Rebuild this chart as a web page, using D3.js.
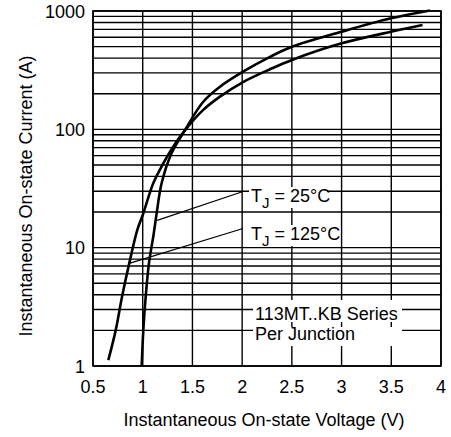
<!DOCTYPE html>
<html>
<head>
<meta charset="utf-8">
<script src="https://cdn.jsdelivr.net/npm/d3@7"></script>
<style>
  body { margin: 0; background: #fff; }
  svg { display: block; font-family: "Liberation Sans", Arial, sans-serif; }
</style>
</head>
<body>
<div id="chart"></div>
<script>
const xTicks = [0.5, 1, 1.5, 2, 2.5, 3, 3.5, 4];
const yTicks = [1, 10, 100, 1000];

// TJ = 125°C
const voltage125 = [0.654, 0.728, 0.792, 0.865, 0.945, 1.006, 1.106, 1.207, 1.30, 1.42, 1.609, 1.777, 2.009, 2.28, 2.501, 3.001, 3.497, 3.814];
const current125 = [1.12, 2.0, 3.85, 7.4, 14.1, 19.5, 35, 51.6, 70, 97, 146, 189, 251, 322, 386, 533, 668, 762];
// TJ = 25°C
const voltage25 = [0.99, 1.006, 1.03, 1.063, 1.11, 1.14, 1.19, 1.29, 1.42, 1.609, 1.777, 2.009, 2.28, 2.501, 3.001, 3.497, 3.889];
const current25 = [1.02, 2.0, 3.85, 7.4, 13, 19.5, 35, 62.7, 97, 171, 229, 307, 410, 499, 668, 867, 1010];

const w = 451, h = 437;
const pLeft = 93, pRight = 441, pTop = 11, pBottom = 366;

const svg = d3.select('#chart').append('svg').attr('width', w).attr('height', h);

const xScale = d3.scaleLinear().domain([0.5, 4]).range([pLeft, pRight]);
const yScale = d3.scaleLog().domain([1, 1000]).range([pBottom, pTop]);

// grid
const grid = svg.append('g').attr('stroke', '#000').attr('stroke-width', 1.4);
grid.selectAll('line.h')
    .data(yScale.ticks())
    .enter()
    .append('line')
    .attr('x1', pLeft).attr('x2', pRight)
    .attr('y1', d => yScale(d)).attr('y2', d => yScale(d));
grid.selectAll('line.v')
    .data(xTicks)
    .enter()
    .append('line')
    .attr('x1', d => xScale(d)).attr('x2', d => xScale(d))
    .attr('y1', pTop).attr('y2', pBottom);
svg.append('rect')
    .attr('x', pLeft).attr('y', pTop)
    .attr('width', pRight - pLeft).attr('height', pBottom - pTop)
    .attr('fill', 'none').attr('stroke', '#000').attr('stroke-width', 1.6);

// curves
const line = d3.line()
    .x(d => xScale(d[0]))
    .y(d => yScale(d[1]))
    .curve(d3.curveCatmullRom.alpha(0.5));
const series = [
    d3.zip(voltage125, current125),
    d3.zip(voltage25, current25)
];
svg.selectAll('path.curve')
    .data(series)
    .enter()
    .append('path')
    .attr('class', 'curve')
    .attr('d', d => line(d))
    .attr('fill', 'none')
    .attr('stroke', '#000')
    .attr('stroke-width', 2.6);

// annotations
const leader = svg.append('g').attr('stroke', '#000').attr('stroke-width', 1.2);
leader.append('line').attr('x1', xScale(1.145)).attr('y1', yScale(17)).attr('x2', 243).attr('y2', 191.5);
leader.append('line').attr('x1', xScale(0.872)).attr('y1', yScale(7.4)).attr('x2', 243).attr('y2', 228.5);

const labels = [
    {text: '25°C', y: 202},
    {text: '125°C', y: 240}
];
labels.forEach(l => {
    svg.append('rect').attr('x', 249).attr('y', l.y - 15).attr('width', l.text.length * 10 + 38).attr('height', 21).attr('fill', '#fff');
    const t = svg.append('text').attr('x', 251).attr('y', l.y).attr('font-size', 18).attr('fill', '#000');
    t.append('tspan').text('T');
    t.append('tspan').attr('dy', 6).attr('font-size', 15).text('J');
    t.append('tspan').attr('dy', -6).text(' = ' + l.text);
});

const legendLines = ['113MT..KB Series', 'Per Junction'];
legendLines.forEach((s, i) => {
    svg.append('rect').attr('x', 253).attr('y', i === 0 ? 300 : 327).attr('width', 149).attr('height', i === 0 ? 22 : 19).attr('fill', '#fff');
    svg.append('text').attr('x', 255).attr('y', 320 + i * 20).attr('font-size', 18).attr('fill', '#000').text(s);
});

// axes labels
svg.selectAll('text.xt')
    .data(xTicks)
    .enter()
    .append('text')
    .attr('x', d => xScale(d))
    .attr('y', 393)
    .attr('text-anchor', 'middle')
    .attr('font-size', 18)
    .text(d => d);
svg.selectAll('text.yt')
    .data(yTicks)
    .enter()
    .append('text')
    .attr('x', 85)
    .attr('y', d => yScale(d) + 6.5)
    .attr('text-anchor', 'end')
    .attr('font-size', 18)
    .text(d => d);

svg.append('text')
    .attr('x', 264).attr('y', 426)
    .attr('text-anchor', 'middle').attr('font-size', 18)
    .text('Instantaneous On-state Voltage (V)');
svg.append('text')
    .attr('transform', 'translate(32,196) rotate(-90)')
    .attr('text-anchor', 'middle').attr('font-size', 18)
    .text('Instantaneous On-state Current (A)');
</script>
</body>
</html>
